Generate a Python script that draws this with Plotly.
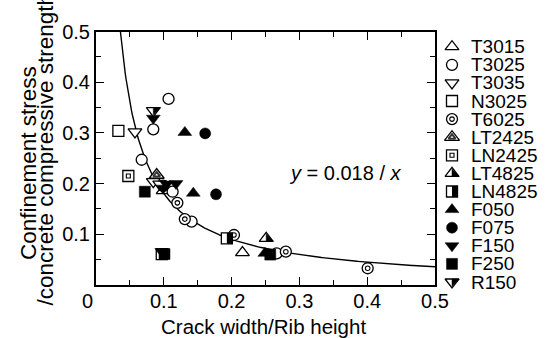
import numpy as np
import plotly.graph_objects as go

# ---- data: (crack width / rib height, confinement stress / f'c) ----
T3015_x = [0.099, 0.216]
T3015_y = [0.186, 0.064]
T3025_x = [0.107, 0.0845, 0.0674, 0.099, 0.113, 0.141, 0.2665]
T3025_y = [0.367, 0.307, 0.247, 0.196, 0.184, 0.125, 0.0625]
T3035_x = [0.0575, 0.0845, 0.094]
T3035_y = [0.302, 0.204, 0.199]
N3025_x = [0.033, 0.097]
N3025_y = [0.304, 0.061]
T6025_x = [0.120, 0.131, 0.2035, 0.280, 0.4007]
T6025_y = [0.162, 0.130, 0.0986, 0.0657, 0.033]
LT2425_x = [0.0895]
LT2425_y = [0.217]
LN2425_x = [0.0477]
LN2425_y = [0.215]
LT4825_x = [0.251]
LT4825_y = [0.092]
LN4825_x = [0.193]
LN4825_y = [0.092]
F050_x = [0.131, 0.1435, 0.249]
F050_y = [0.301, 0.181, 0.0625]
F075_x = [0.161, 0.177]
F075_y = [0.299, 0.179]
F150_x = [0.0845, 0.104, 0.118, 0.099, 0.097]
F150_y = [0.329, 0.199, 0.200, 0.191, 0.066]
F250_x = [0.072, 0.101, 0.257]
F250_y = [0.184, 0.061, 0.060]
R150_x = [0.0845]
R150_y = [0.344]

series = [
    ("T3015", T3015_x, T3015_y),
    ("T3025", T3025_x, T3025_y),
    ("T3035", T3035_x, T3035_y),
    ("N3025", N3025_x, N3025_y),
    ("T6025", T6025_x, T6025_y),
    ("LT2425", LT2425_x, LT2425_y),
    ("LN2425", LN2425_x, LN2425_y),
    ("LT4825", LT4825_x, LT4825_y),
    ("LN4825", LN4825_x, LN4825_y),
    ("F050", F050_x, F050_y),
    ("F075", F075_x, F075_y),
    ("F150", F150_x, F150_y),
    ("F250", F250_x, F250_y),
    ("R150", R150_x, R150_y),
]

FIT_COEF = 0.018
X_TICKS = [0, 0.1, 0.2, 0.3, 0.4, 0.5]
X_TICKTEXT = ["0   ", "0.1", "0.2", "0.3", "0.4", "0.5"]
Y_TICKS = [0.1, 0.2, 0.3, 0.4, 0.5]
Y_TICKTEXT = ["0.1", "0.2", "0.3", "0.4", "0.5"]

# ---- page geometry (pixels) ----
W, H = 547, 338
PL, PR, PT, PB = 96, 435, 31.5, 285
FONT = "Liberation Sans, Arial, sans-serif"
S = 12          # marker size
LW = 1.3        # marker outline width

fig = go.Figure()

# fitted hyperbola
xf = np.linspace(FIT_COEF / 0.5, 0.5, 400)
fig.add_trace(go.Scatter(x=xf, y=FIT_COEF / xf, mode="lines",
                         line=dict(color="black", width=1.4),
                         hoverinfo="skip", showlegend=False))

# one glyph = list of layers (symbol, size, fill, line color, line width, dx, dy) in px
def open_(sym, size=S):
    return (sym, size, "white", "black", LW, 0, 0)

r = S / 2
rp = 0.68 * r
GLYPHS = {
    "T3015": [open_("triangle-up")],
    "T3025": [open_("circle", S - 1)],
    "T3035": [open_("triangle-down")],
    "N3025": [open_("square", S - 1)],
    "T6025": [open_("circle", S - 1), ("circle", 4.5, "white", "black", 1.1, 0, 0)],
    "LT2425": [open_("triangle-up", S + 1), ("triangle-up", 6, "white", "#333", 2.0, 0, 0)],
    "LN2425": [open_("square", S - 1), ("square", 4, "white", "black", 1.1, 0, 0)],
    "LT4825": [open_("triangle-up"),
               ("triangle-sw", 2 * rp, "black", "black", 0.5, 0.6 * rp, 0.5 * r - 0.6 * rp)],
    "LN4825": [open_("square", S - 1),
               ("line-ns", (S - 1) / 1.4, "black", "black", (S - 1) / 2, (S - 1) / 4, 0)],
    "F050": [("triangle-up", S, "black", "black", 0.5, 0, 0)],
    "F075": [("circle", S - 1, "black", "black", 0.5, 0, 0)],
    "F150": [("triangle-down", S, "black", "black", 0.5, 0, 0)],
    "F250": [("square", S - 1, "black", "black", 0.5, 0, 0)],
    "R150": [open_("triangle-down"),
             ("triangle-nw", 2 * rp, "black", "black", 0.5, 0.6 * rp, -0.5 * r + 0.6 * rp)],
}

# data units per pixel on the main axes
UX = 0.5 / (PR - PL)
UY = 0.5 / (PB - PT)


def add_glyph(name, xs, ys, xaxis, yaxis, ux, uy):
    for sym, size, fill, lc, lw, dx, dy in GLYPHS[name]:
        fig.add_trace(go.Scatter(
            x=[v + dx * ux for v in xs], y=[v + dy * uy for v in ys],
            mode="markers", xaxis=xaxis, yaxis=yaxis, name=name,
            showlegend=False, hoverinfo="skip", cliponaxis=False,
            marker=dict(symbol=sym, size=size, color=fill,
                        line=dict(color=lc, width=lw))))


for name, xs, ys in series:
    # screen y grows downward, data y grows upward
    add_glyph(name, xs, ys, "x", "y", UX, -UY)

# key drawn on its own pixel-scaled axes at the right
LEG_X0 = 440
LEG_MX, LEG_TX = 452, 469
LEG_Y0, LEG_DY = 46.7, 18.1
for i, (name, _, _) in enumerate(series):
    yy = LEG_Y0 + i * LEG_DY
    add_glyph(name, [LEG_MX], [yy], "x2", "y2", 1, 1)
    fig.add_annotation(x=LEG_TX, y=yy, xref="x2", yref="y2", text=name,
                       showarrow=False, xanchor="left", yanchor="middle",
                       font=dict(family=FONT, size=19, color="black"))

axis_common = dict(showline=True, linewidth=2, linecolor="black", mirror="ticks",
                   ticks="inside", ticklen=8, tickwidth=1.3, tickcolor="black",
                   showgrid=False, zeroline=False, automargin=False,
                   tickfont=dict(family=FONT, size=20, color="black"),
                   minor=dict(dtick=0.05, ticks="inside", ticklen=5,
                              tickwidth=1.3, tickcolor="black", showgrid=False))

fig.update_layout(
    width=W, height=H, margin=dict(l=0, r=0, t=0, b=0),
    paper_bgcolor="white", plot_bgcolor="white", showlegend=False,
    xaxis=dict(range=[0, 0.5], domain=[PL / W, PR / W], ticklabelstandoff=-3,
               tickvals=X_TICKS, ticktext=X_TICKTEXT, **axis_common),
    yaxis=dict(range=[0, 0.5], domain=[1 - PB / H, 1 - PT / H],
               tickvals=Y_TICKS, ticktext=Y_TICKTEXT, **axis_common),
    xaxis2=dict(range=[LEG_X0, W], domain=[LEG_X0 / W, 1], visible=False,
                anchor="y2"),
    yaxis2=dict(range=[H, 0], domain=[0, 1], visible=False, anchor="x2"),
)

# axis titles and fit equation
fig.add_annotation(x=(PL + PR) / 2 / W - 0.003, y=1 - 326 / H, xref="paper", yref="paper",
                   text="Crack width/Rib height", showarrow=False,
                   xanchor="center", yanchor="middle",
                   font=dict(family=FONT, size=20.5, color="black"))
fig.add_annotation(x=28.5 / W, y=1 - 163.5 / H, xref="paper", yref="paper",
                   text="Confinement stress", showarrow=False, textangle=-90,
                   xanchor="center", yanchor="middle",
                   font=dict(family=FONT, size=22.5, color="black"))
fig.add_annotation(x=45 / W, y=1 - 308 / H, xref="paper", yref="paper",
                   text="/concrete compressive strength", showarrow=False,
                   textangle=-90, xanchor="center", yanchor="bottom",
                   font=dict(family=FONT, size=22.5, color="black"))
fig.add_annotation(x=345 / W, y=1 - 173 / H, xref="paper", yref="paper",
                   text="<i>y</i> = 0.018 / <i>x</i>", showarrow=False,
                   xanchor="center", yanchor="middle",
                   font=dict(family=FONT, size=20, color="black"))

fig.write_html("out.html")
